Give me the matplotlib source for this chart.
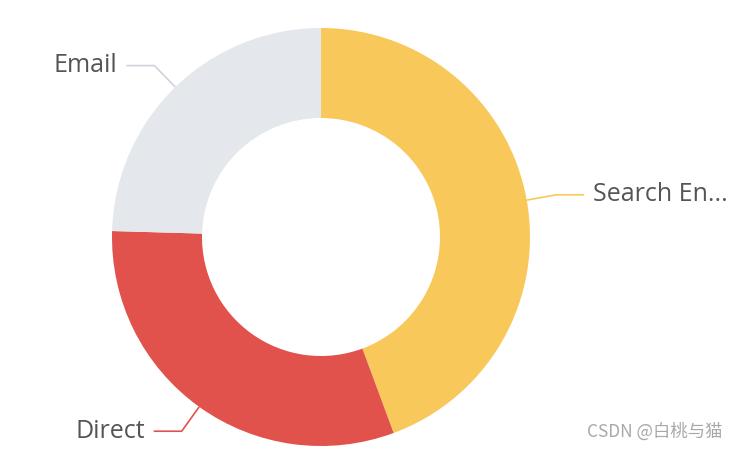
import numpy as np
import matplotlib.pyplot as plt

plt.rcParams['font.family'] = ['Noto Sans CJK SC', 'DejaVu Sans']

labels = ['Search Engine', 'Direct', 'Email']
shown = ['Search En...', 'Direct', 'Email']
values = [1048, 735, 580]
colors = ['#f9c85a', '#e0524b', '#e4e7ec']

cx, cy = 321, 213
r_out, r_in = 209, 119

fig = plt.figure(figsize=(7.38, 4.5), dpi=100)
ax = fig.add_axes([0, 0, 1, 1])
ax.set_xlim(0, 738)
ax.set_ylim(0, 450)
ax.set_aspect('equal')
ax.axis('off')

wedges, _ = ax.pie(values, colors=colors, startangle=90, counterclock=False,
                   center=(cx, cy), radius=r_out,
                   wedgeprops=dict(width=r_out - r_in, linewidth=0))
ax.set_xlim(0, 738)
ax.set_ylim(0, 450)

# leader lines: from wedge middle, short bend then horizontal
for w, name, col in zip(wedges, shown, colors):
  mid = np.deg2rad((w.theta1 + w.theta2) / 2)
  x0 = cx + r_out * np.cos(mid)
  y0 = cy + r_out * np.sin(mid)
  x1 = cx + (r_out + 30) * np.cos(mid)
  y1 = cy + (r_out + 30) * np.sin(mid)
  side = 1 if np.cos(mid) > 0 else -1
  x2 = x1 + side * 28
  lc = '#cfd3da' if col == '#e4e7ec' else col
  ax.plot([x0, x1, x2], [y0, y1, y1], color=lc, lw=1.2, solid_capstyle='butt')
  ax.text(x2 + side * 9, y1, name, ha='left' if side > 0 else 'right',
          va='center', fontsize=18, color='#555555',
          family=['Open Sans', 'DejaVu Sans'])

fig.text(587 / 738, 1 - 432 / 450, 'CSDN @白桃与猫', fontsize=12.5,
         color='#a8a8a8', ha='left', va='center')

fig.savefig('out.png', dpi=100)
